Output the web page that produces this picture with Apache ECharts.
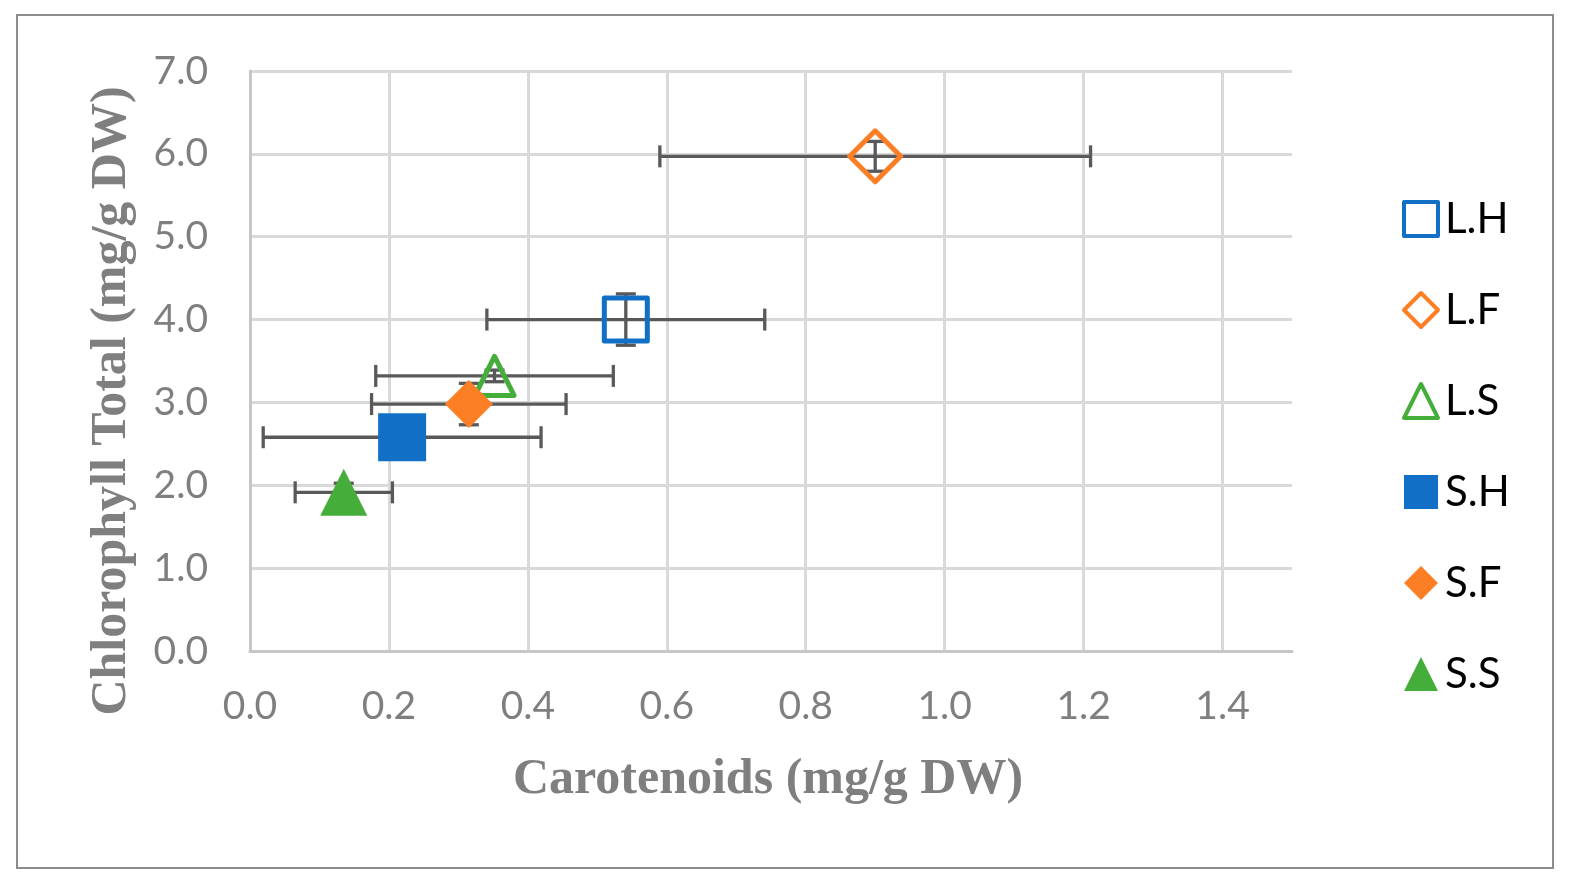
<!DOCTYPE html>
<html>
<head>
<meta charset="utf-8">
<script src="https://cdn.jsdelivr.net/npm/echarts@6/dist/echarts.min.js"></script>
<style>
  html, body { margin: 0; padding: 0; background: #fff; }
  #chart { width: 1574px; height: 888px; }
</style>
</head>
<body>
<div id="chart"></div>
<script>
// series data
var seriesNames = ['L.H', 'L.F', 'L.S', 'S.H', 'S.F', 'S.S'];
var carotenoids = [0.541, 0.900, 0.352, 0.219, 0.315, 0.135];
var chlorophyll = [4.00, 5.97, 3.32, 2.58, 2.98, 1.915];
var carotErr = [0.20, 0.31, 0.171, 0.20, 0.14, 0.07];
var chloroErr = [0.31, 0.18, 0.07, 0.10, 0.25, 0.11];

var colors = ['#1170c6', '#fd7f25', '#45ad3a', '#1170c6', '#fd7f25', '#45ad3a'];
var symbols = ['rect', 'diamond', 'triangle', 'rect', 'diamond', 'triangle'];
var sizes = [43, 51, 39, 48, 48, 47];
var hollow = [true, true, true, false, false, false];

var chart = echarts.init(document.getElementById('chart'));

//误差线
function renderErrorBar(params, api) {
	var x = api.value(0), y = api.value(1), xe = api.value(2), ye = api.value(3);
	var L = api.coord([x - xe, y]);
	var R = api.coord([x + xe, y]);
	var T = api.coord([x, y + ye]);
	var B = api.coord([x, y - ye]);
	var cap = 11;
	var style = { stroke: '#595959', lineWidth: 3.3 };
	function ln(x1, y1, x2, y2) {
		return { type: 'line', shape: { x1: x1, y1: y1, x2: x2, y2: y2 }, style: style };
	}
	return {
		type: 'group',
		children: [
			ln(L[0], L[1], R[0], R[1]),
			ln(L[0], L[1] - cap, L[0], L[1] + cap),
			ln(R[0], R[1] - cap, R[0], R[1] + cap),
			ln(T[0], T[1], B[0], B[1]),
			ln(T[0] - 10, T[1], T[0] + 10, T[1]),
			ln(B[0] - 10, B[1], B[0] + 10, B[1])
		]
	};
}

var series = [{
	name: 'errbar',
	type: 'custom',
	z: 1,
	renderItem: renderErrorBar,
	encode: { x: 0, y: 1 },
	data: carotenoids.map(function(v, i) {
		return [v, chlorophyll[i], carotErr[i], chloroErr[i]];
	})
}];

var legendData = [];

for (var i in seriesNames) {
	series.push({
		name: seriesNames[i],
		type: 'scatter',
		z: 2,
		symbol: symbols[i],
		symbolSize: sizes[i],
		itemStyle: hollow[i] ? {
			color: 'rgba(255,255,255,0)',
			borderColor: colors[i],
			borderWidth: 5,
			borderJoin: 'round',
			opacity: 1
		} : {
			color: colors[i],
			opacity: 1
		},
		data: [[carotenoids[i], chlorophyll[i]]]
	});
	legendData.push(hollow[i] ? {
		name: seriesNames[i],
		itemStyle: { borderWidth: 4, borderColor: colors[i], borderJoin: 'round' }
	} : { name: seriesNames[i] });
}

var option = {
	animation: false,
	grid: { left: 250, top: 71, right: 282, bottom: 237 },
	xAxis: {
		type: 'value',
		min: 0,
		max: 1.5,
		interval: 0.2,
		axisLine: { show: true, onZero: false, lineStyle: { color: '#c6c6c6', width: 3 } },
		axisTick: { show: false },
		axisLabel: {
			formatter: function(v) { return v.toFixed(1); },
			color: '#7f7f7f', fontSize: 39, fontFamily: 'Lato', margin: 36,
			showMaxLabel: false
		},
		splitLine: { show: true, showMaxLine: false, lineStyle: { color: '#d9d9d9', width: 3 } }
	},
	yAxis: {
		type: 'value',
		min: 0,
		max: 7,
		interval: 1,
		axisLine: { show: true, onZero: false, lineStyle: { color: '#c6c6c6', width: 3 } },
		axisTick: { show: false },
		axisLabel: {
			formatter: function(v) { return v.toFixed(1); },
			color: '#7f7f7f', fontSize: 39, fontFamily: 'Lato', margin: 42
		},
		splitLine: { show: true, lineStyle: { color: '#d9d9d9', width: 3 } }
	},
	legend: {
		orient: 'vertical',
		left: 1397,
		top: 193,
		itemWidth: 34,
		itemHeight: 34,
		itemGap: 49,
		textStyle: { fontSize: 42, fontFamily: 'Lato', color: '#000', lineHeight: 34, padding: [0, 0, 0, 2] },
		data: legendData
	},
	graphic: [{
		type: 'rect',
		shape: { x: 17, y: 15, width: 1536, height: 853 },
		style: { fill: 'none', stroke: '#8c8c8c', lineWidth: 2 },
		silent: true
	}, {
		type: 'text',
		x: 768, y: 780,
		style: {
			text: 'Carotenoids (mg/g DW)',
			font: 'bold 50px "Liberation Serif"',
			fill: '#7f7f7f',
			textAlign: 'center',
			textVerticalAlign: 'middle'
		}
	}, {
		type: 'text',
		x: 112, y: 401,
		rotation: Math.PI / 2,
		style: {
			text: 'Chlorophyll Total (mg/g DW)',
			font: 'bold 50px "Liberation Serif"',
			fill: '#7f7f7f',
			textAlign: 'center',
			textVerticalAlign: 'middle'
		}
	}],
	series: series
};

chart.setOption(option, true);
</script>
</body>
</html>
